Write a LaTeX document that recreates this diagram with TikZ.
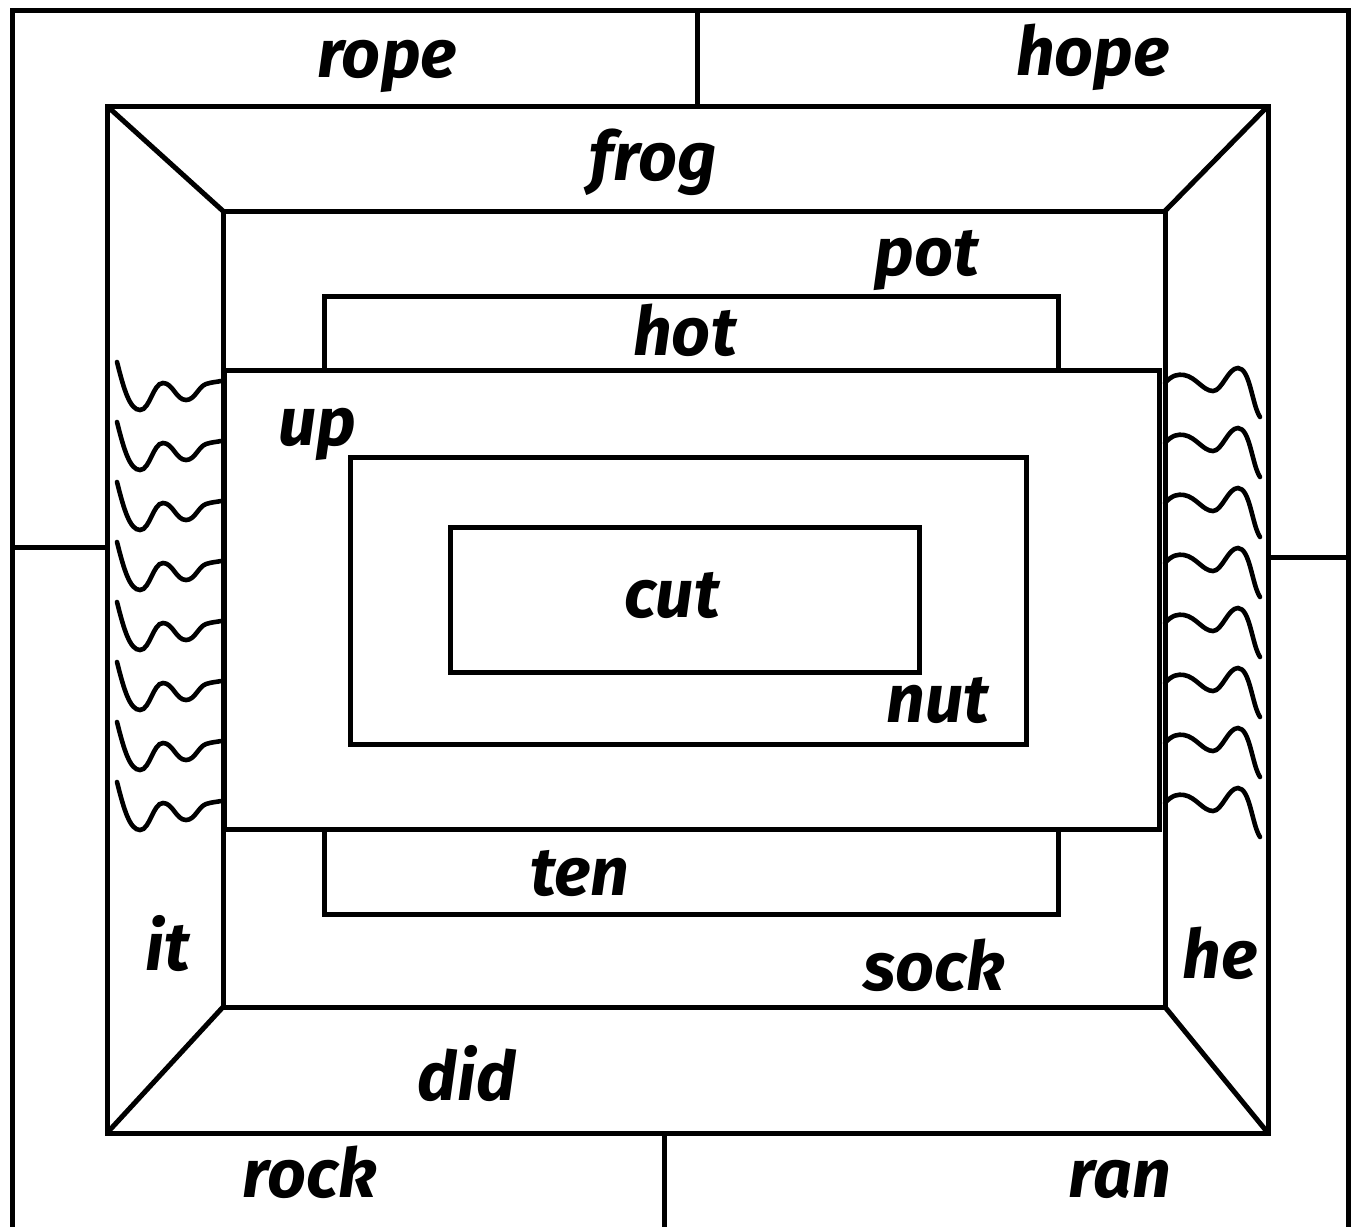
\documentclass[tikz,border=0pt]{standalone}
\usepackage{fontspec}
\setmainfont{Fira Sans}
\usetikzlibrary{positioning}

\begin{document}
\begin{tikzpicture}[
  x=0.5pt, y=-0.5pt,
  line join=miter,
  frame/.style={draw, line width=2.5pt},
  wave/.style={draw, line width=2.3pt, line cap=round},
  word/.style={anchor=base, inner sep=0pt, font=\fontsize{34}{40}\selectfont\bfseries\itshape},
]
\useasboundingbox (0,0) rectangle (1354,1226);
% outer frame and dividers
\draw[frame] (12,1230) -- (12,10) -- (1348,10) -- (1348,1230);
\draw[frame] (697,10) -- (697,106);
\draw[frame] (12,547) -- (107,547);
\draw[frame] (1268,557) -- (1348,557);
\draw[frame] (664,1133) -- (664,1230);
% bevelled frame
\draw[frame] (107,106) rectangle (1268,1133);
\draw[frame] (223,211) rectangle (1165,1007);
\draw[frame] (107,106) -- (223,211);
\draw[frame] (1268,106) -- (1165,211);
\draw[frame] (107,1133) -- (223,1007);
\draw[frame] (1268,1133) -- (1165,1007);
% inner boxes
\draw[frame] (324,370) -- (324,296) -- (1058,296) -- (1058,370);
\draw[frame] (324,829) -- (324,914) -- (1058,914) -- (1058,829);
\draw[frame] (224,370) rectangle (1159,829);
\draw[frame] (350,457) rectangle (1026,744);
\draw[frame] (450,527) rectangle (919,672);
% waves
\foreach \i in {0,...,7} {
  \draw[wave, shift={(0,\i*60)}] (117,362)
    .. controls (124,390) and (130,410) .. (140,410)
    .. controls (150,410) and (153,383) .. (163,383)
    .. controls (173,383) and (176,400) .. (186,400)
    .. controls (195,400) and (198,387) .. (206,384)
    .. controls (212,382) and (217,382) .. (221,381);
  \draw[wave, shift={(0,\i*60)}] (1165,383)
    .. controls (1172,375) and (1178,374) .. (1184,375)
    .. controls (1196,377) and (1203,391) .. (1213,391)
    .. controls (1222,391) and (1228,368) .. (1238,368)
    .. controls (1250,368) and (1252,405) .. (1260,417);
}
% words
\node[word] (rope) at (387,77)   {rope};
\node[word] (hope) at (1093,75)  {hope};
\node[word] (frog) at (653,180)  {frog};
\node[word] (pot)  at (927,275)  {pot};
\node[word] (hot)  at (685,355)  {hot};
\node[word] (up)   at (317,445)  {up};
\node[word] (cut)  at (672,617)  {cut};
\node[word] (nut)  at (938,722)  {nut};
\node[word] (ten)  at (580,895)  {ten};
\node[word] (it)   at (168,970)  {it};
\node[word] (sock) at (934,990)  {sock};
\node[word] (he)   at (1220,978) {he};
\node[word] (did)  at (467,1100) {did};
\node[word] (rock) at (310,1197) {rock};
\node[word] (ran)  at (1120,1197) {ran};
\end{tikzpicture}
\end{document}
